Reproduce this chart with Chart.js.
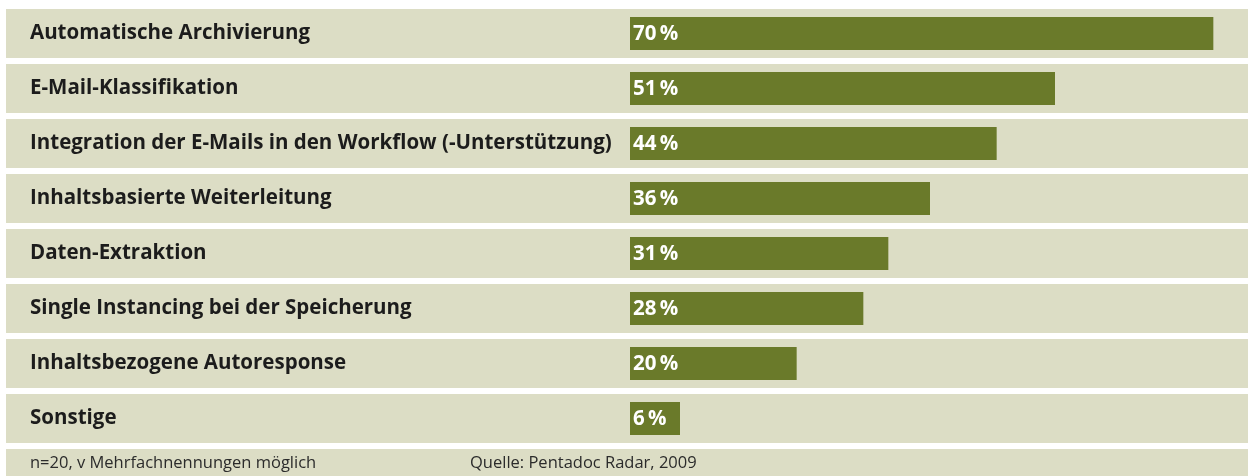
<!DOCTYPE html>
<html lang="de">
<head>
<meta charset="utf-8">
<title>E-Mail-Management Funktionen</title>
<script src="https://cdn.jsdelivr.net/npm/chart.js@4/dist/chart.umd.min.js"></script>
<style>
  html, body { margin: 0; padding: 0; background: #ffffff; }
  #wrap { width: 1248px; height: 476px; position: relative; }
</style>
</head>
<body>
<div id="wrap"><canvas id="featureChart"></canvas></div>
<script>
// Funktionen und Anteile der Nennungen (in %)
const categories = [
  "Automatische Archivierung",
  "E-Mail-Klassifikation",
  "Integration der E-Mails in den Workflow (-Unterstützung)",
  "Inhaltsbasierte Weiterleitung",
  "Daten-Extraktion",
  "Single Instancing bei der Speicherung",
  "Inhaltsbezogene Autoresponse",
  "Sonstige"
];
const shares = [70, 51, 44, 36, 31, 28, 20, 6];
const footNote = "n=20, v Mehrfachnennungen möglich";
const sourceNote = "Quelle: Pentadoc Radar, 2009";

const FONT = "'Open Sans', 'DejaVu Sans', sans-serif";
const ROW_BG = "#dcddc5";
const BAR = "#6a7a2a";

// beige bands behind every row plus the footer band (drawn before the axis labels)
const rowBands = {
  id: "rowBands",
  beforeDraw(chart) {
    const { ctx, chartArea, scales } = chart;
    const y = scales.y;
    const band = (chartArea.bottom - chartArea.top) / categories.length;
    ctx.save();
    ctx.fillStyle = ROW_BG;
    categories.forEach((_, i) => {
      const yc = y.getPixelForValue(i);
      ctx.fillRect(6, yc - band / 2 + 3, chart.width - 6, band - 6);
    });
    ctx.fillRect(6, chartArea.bottom + 3, chart.width - 6, chart.height - chartArea.bottom - 3);
    ctx.restore();
  },
  afterDraw(chart) {
    const { ctx, chartArea } = chart;
    ctx.save();
    ctx.fillStyle = "#2b2b2b";
    ctx.font = "400 16.5px " + FONT;
    ctx.textBaseline = "alphabetic";
    const base = chartArea.bottom + 22;
    ctx.fillText(footNote, 30, base);
    ctx.fillText(sourceNote, 470, base);
    ctx.restore();
  }
};

// white percentage labels at the start of each bar
const valueLabels = {
  id: "valueLabels",
  afterDatasetsDraw(chart) {
    const { ctx } = chart;
    const meta = chart.getDatasetMeta(0);
    ctx.save();
    ctx.fillStyle = "#ffffff";
    ctx.font = "700 20.5px " + FONT;
    ctx.textBaseline = "middle";
    meta.data.forEach((bar, i) => {
      ctx.fillText(shares[i] + "\u2009%", bar.base + 3, bar.y + 1);
    });
    ctx.restore();
  }
};

new Chart(document.getElementById("featureChart"), {
  type: "bar",
  data: {
    labels: categories,
    datasets: [{
      data: shares,
      backgroundColor: BAR,
      borderWidth: 0,
      barPercentage: 0.6,
      categoryPercentage: 1
    }]
  },
  options: {
    indexAxis: "y",
    responsive: true,
    maintainAspectRatio: false,
    animation: false,
    layout: { padding: { left: 30, right: 18, top: 6, bottom: 30 } },
    plugins: {
      legend: { display: false },
      tooltip: { enabled: false }
    },
    scales: {
      x: { display: false, min: 0, max: 72 },
      y: {
        grid: { display: false, drawTicks: false },
        border: { display: false },
        afterFit(scale) {
          scale.width = 600;
          scale.paddingTop = 0;
          scale.paddingBottom = 0;
        },
        ticks: {
          crossAlign: "far",
          color: "#1c1c1c",
          font: { family: FONT, size: 20.5, weight: "700" }
        }
      }
    }
  },
  plugins: [rowBands, valueLabels]
});
</script>
</body>
</html>
